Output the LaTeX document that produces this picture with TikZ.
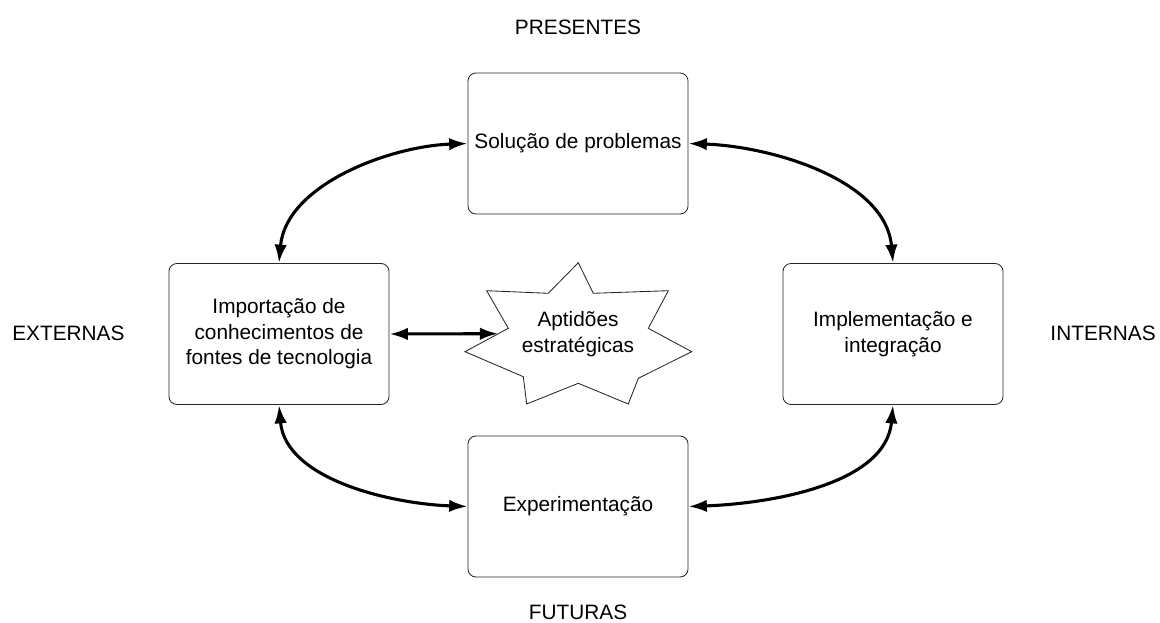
\documentclass[tikz,border=0pt]{standalone}
\usepackage{fontspec}
\setmainfont{Liberation Sans}
\usetikzlibrary{arrows.meta}
\begin{document}
\begin{tikzpicture}[x=0.025cm,y=-0.025cm,
  txt/.style={font=\fontsize{14.8}{18.2}\selectfont},
  box/.style={txt, draw=black!85, rounded corners=2mm, line width=0.6pt,
    minimum width=5.5cm, minimum height=3.525cm, align=center, inner sep=0pt},
  conn/.style={line width=2.2pt, {Latex[length=4.6mm,width=3.1mm]}-{Latex[length=4.6mm,width=3.1mm]}},
  starline/.style={draw=black!85, line width=0.6pt, line join=miter}]
\useasboundingbox (0,0) rectangle (1160,623);

\node[box] (T) at (578,143.5) {Solução de problemas};
\node[box] (L) at (279,334) {Importação de\\conhecimentos de\\fontes de tecnologia};
\node[box] (R) at (893,334) {Implementação e\\integração};
\node[box] (B) at (578,506.5) {Experimentação};

% star
\coordinate (s1) at (578.3,262.7);
\coordinate (s2) at (593.3,293.3);
\coordinate (s3) at (668.3,290.7);
\coordinate (s4) at (648.3,328.3);
\coordinate (s5) at (691.7,351.7);
\coordinate (s6) at (638.3,378.3);
\coordinate (s7) at (628.3,404);
\coordinate (s8) at (578.3,383.3);
\coordinate (s9) at (526.7,404);
\coordinate (s10) at (523.3,376.7);
\coordinate (s11) at (465,351.7);
\coordinate (s12) at (508.3,328.3);
\coordinate (s13) at (486.7,290.7);
\coordinate (s14) at (548.3,293.3);
\draw[starline] (s1)--(s2)--(s3)--(s4)--(s5)--(s6)--(s7)--(s8)--(s9)--(s10)--(s11)--(s12)--(s13)--(s14)--cycle;
\node[txt, align=center] (S) at (578,334) {Aptidões\\estratégicas};
\coordinate (starL) at (498.3,333.7);

\node[txt] (pres) at (578,27) {PRESENTES};
\node[txt, anchor=west, inner sep=0pt] (ext) at (12,333) {EXTERNAS};
\node[txt, anchor=east, inner sep=0pt] (int) at (1156,333) {INTERNAS};
\node[txt] (fut) at (578,612) {FUTURAS};

\draw[conn] (L.north) to[out=85,in=182,looseness=0.9] (T.west);
\draw[conn] (T.east) to[out=-2,in=95,looseness=0.9] (R.north);
\draw[conn] (L.south) to[out=-85,in=178,looseness=0.9] (B.west);
\draw[conn] (B.east) to[out=2,in=-95,looseness=0.9] (R.south);
\draw[conn] (L.east) -- (starL);
\end{tikzpicture}
\end{document}
